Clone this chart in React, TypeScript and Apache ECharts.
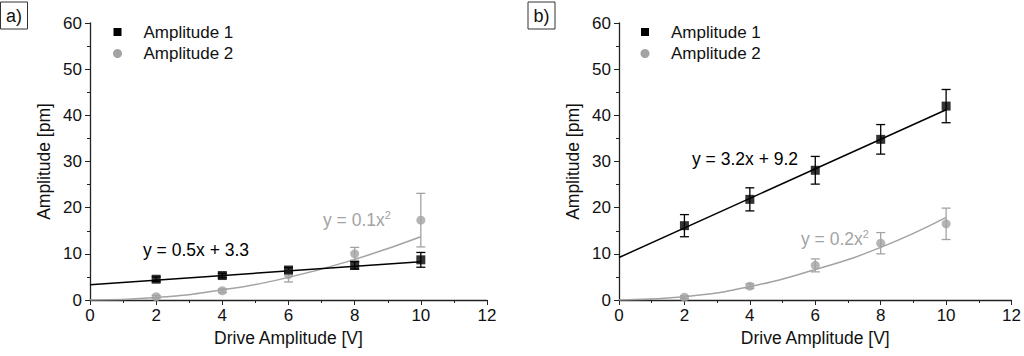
import React, { useEffect, useRef } from "react";
import * as echarts from "echarts";

const xValues = [2, 4, 6, 8, 10];
const xTicks = [0, 2, 4, 6, 8, 10, 12];
const yTicks = [0, 10, 20, 30, 40, 50, 60];

// panel a
const aAmp1 = [4.5, 5.3, 6.5, 7.5, 8.7];
const aAmp1Err = [0.5, 0.5, 0.5, 0.8, 1.6];
const aAmp2 = [0.7, 2.0, 5.5, 10.0, 17.3];
const aAmp2Err = [0.3, 0.4, 1.6, 1.4, 5.8];
const aFit1X = [0, 10];
const aFit1Y = [3.3, 8.3];
const aFit2X = [0, 2, 4, 6, 8, 10];
const aFit2Y = [0, 0.55, 2.2, 4.9, 8.8, 13.7];

// panel b
const bAmp1 = [16.1, 21.8, 28.1, 34.8, 42.0];
const bAmp1Err = [2.4, 2.5, 3.0, 3.2, 3.6];
const bAmp2 = [0.6, 3.0, 7.5, 12.3, 16.5];
const bAmp2Err = [0.3, 0.5, 1.4, 2.3, 3.4];
const bFit1X = [0, 10];
const bFit1Y = [9.2, 41.2];
const bFit2X = [0, 2, 4, 6, 8, 10];
const bFit2Y = [0, 0.7, 2.9, 6.6, 11.4, 17.9];

const BLACK = "#000000";
const GRAY = "#a3a3a3";
const FONT = "Liberation Sans, Arial, sans-serif";

const pairs = (xs: number[], ys: number[]) => xs.map((x, i) => [x, ys[i]]);
const errs = (xs: number[], ys: number[], es: number[]) =>
  xs.map((x, i) => [x, ys[i] - es[i], ys[i] + es[i]]);

function errorSeries(idx: number, data: number[][], color: string) {
  return {
    type: "custom",
    xAxisIndex: idx,
    yAxisIndex: idx,
    data,
    z: 3,
    silent: true,
    renderItem: (params: any, api: any) => {
      const x = api.value(0);
      const lo = api.coord([x, api.value(1)]);
      const hi = api.coord([x, api.value(2)]);
      const w = 4.5;
      const style = { stroke: color, lineWidth: 1.3 };
      return {
        type: "group",
        children: [
          { type: "line", shape: { x1: lo[0], y1: lo[1], x2: hi[0], y2: hi[1] }, style },
          { type: "line", shape: { x1: lo[0] - w, y1: lo[1], x2: lo[0] + w, y2: lo[1] }, style },
          { type: "line", shape: { x1: hi[0] - w, y1: hi[1], x2: hi[0] + w, y2: hi[1] }, style },
        ],
      };
    },
  };
}

function panelSeries(
  idx: number,
  amp1: number[], amp1Err: number[], amp2: number[], amp2Err: number[],
  f1x: number[], f1y: number[], f2x: number[], f2y: number[]
) {
  return [
    {
      type: "line", xAxisIndex: idx, yAxisIndex: idx, data: pairs(f2x, f2y),
      smooth: true, showSymbol: false, lineStyle: { color: GRAY, width: 1.5 }, z: 2, silent: true,
    },
    {
      type: "line", xAxisIndex: idx, yAxisIndex: idx, data: pairs(f1x, f1y),
      showSymbol: false, lineStyle: { color: BLACK, width: 1.5 }, z: 2, silent: true,
    },
    errorSeries(idx, errs(xValues, amp2, amp2Err), GRAY),
    errorSeries(idx, errs(xValues, amp1, amp1Err), BLACK),
    {
      name: "Amplitude 2", type: "scatter", xAxisIndex: idx, yAxisIndex: idx,
      data: pairs(xValues, amp2), symbol: "circle", symbolSize: 9,
      itemStyle: { color: GRAY }, z: 4,
    },
    {
      name: "Amplitude 1", type: "scatter", xAxisIndex: idx, yAxisIndex: idx,
      data: pairs(xValues, amp1), symbol: "rect", symbolSize: 9,
      itemStyle: { color: BLACK }, z: 5,
    },
  ];
}

function axisX(idx: number) {
  return {
    type: "value", gridIndex: idx, min: xTicks[0], max: xTicks[xTicks.length - 1], interval: 2,
    name: "Drive Amplitude [V]", nameLocation: "middle", nameGap: 29,
    nameTextStyle: { fontFamily: FONT, fontSize: 17.5, color: "#111" },
    axisLine: { show: true, onZero: false, lineStyle: { color: "#222", width: 1.3 } },
    axisTick: { show: true, length: 5, lineStyle: { color: "#222" } },
    minorTick: { show: true, splitNumber: 2, length: 3, lineStyle: { color: "#222" } },
    axisLabel: { fontFamily: FONT, fontSize: 17, color: "#111", margin: 7 },
    splitLine: { show: false },
  };
}

function axisY(idx: number) {
  return {
    type: "value", gridIndex: idx, min: yTicks[0], max: yTicks[yTicks.length - 1], interval: 10,
    name: "Amplitude [pm]", nameLocation: "middle", nameGap: 37,
    nameTextStyle: { fontFamily: FONT, fontSize: 17.5, color: "#111" },
    axisLine: { show: true, onZero: false, lineStyle: { color: "#222", width: 1.3 } },
    axisTick: { show: true, length: 5, lineStyle: { color: "#222" } },
    minorTick: { show: true, splitNumber: 2, length: 3, lineStyle: { color: "#222" } },
    axisLabel: { fontFamily: FONT, fontSize: 17, color: "#111", margin: 8 },
    splitLine: { show: false },
  };
}

function legendGraphic(x0: number) {
  return [
    { type: "rect", shape: { x: x0 - 4, y: 28, width: 8, height: 8 }, style: { fill: BLACK } },
    { type: "text", x: x0 + 26, y: 32, style: { text: "Amplitude 1", font: `17px ${FONT}`, fill: "#111", verticalAlign: "middle" } },
    { type: "circle", shape: { cx: x0, cy: 53.5, r: 4.5 }, style: { fill: GRAY } },
    { type: "text", x: x0 + 26, y: 53.5, style: { text: "Amplitude 2", font: `17px ${FONT}`, fill: "#111", verticalAlign: "middle" } },
  ];
}

function panelLabel(x: number, text: string) {
  return [
    { type: "rect", shape: { x, y: 2, width: 27, height: 27 }, style: { fill: "none", stroke: "#333", lineWidth: 1 } },
    { type: "text", x: x + 13.5, y: 16, style: { text, font: `18px ${FONT}`, fill: "#111", align: "center", verticalAlign: "middle" } },
  ];
}

function eqText(x: number, y: number, base: string, color: string, sup?: string) {
  return {
    type: "text", x, y,
    style: {
      text: sup ? `{b|${base}}{s|${sup}}` : `{b|${base}}`,
      fill: color,
      verticalAlign: "middle",
      rich: {
        b: { fontFamily: FONT, fontSize: 17.5, fill: color, color },
        s: { fontFamily: FONT, fontSize: 11, fill: color, color, verticalAlign: "top", padding: [0, 0, 10, 0] },
      },
    },
  };
}

export default function App() {
  const ref = useRef<HTMLDivElement>(null);
  useEffect(() => {
    document.body.style.margin = "0";
    const chart = echarts.init(ref.current!, null, { renderer: "svg" });
    chart.setOption({
      animation: false,
      backgroundColor: "#ffffff",
      grid: [
        { left: 90, top: 23, width: 397, height: 277 },
        { left: 619, top: 23, width: 397, height: 277 },
      ],
      xAxis: [axisX(0), axisX(1)],
      yAxis: [axisY(0), axisY(1)],
      series: [
        ...panelSeries(0, aAmp1, aAmp1Err, aAmp2, aAmp2Err, aFit1X, aFit1Y, aFit2X, aFit2Y),
        ...panelSeries(1, bAmp1, bAmp1Err, bAmp2, bAmp2Err, bFit1X, bFit1Y, bFit2X, bFit2Y),
      ],
      graphic: [
        ...panelLabel(0.5, "a)"),
        ...panelLabel(528, "b)"),
        ...legendGraphic(117.5),
        ...legendGraphic(645),
        eqText(143, 250, "y = 0.5x + 3.3", BLACK),
        eqText(323, 220, "y = 0.1x", GRAY, "2"),
        eqText(692, 159, "y = 3.2x + 9.2", BLACK),
        eqText(801, 239, "y = 0.2x", GRAY, "2"),
      ],
    });
    return () => chart.dispose();
  }, []);
  return <div ref={ref} style={{ width: 1024, height: 356 }} />;
}
